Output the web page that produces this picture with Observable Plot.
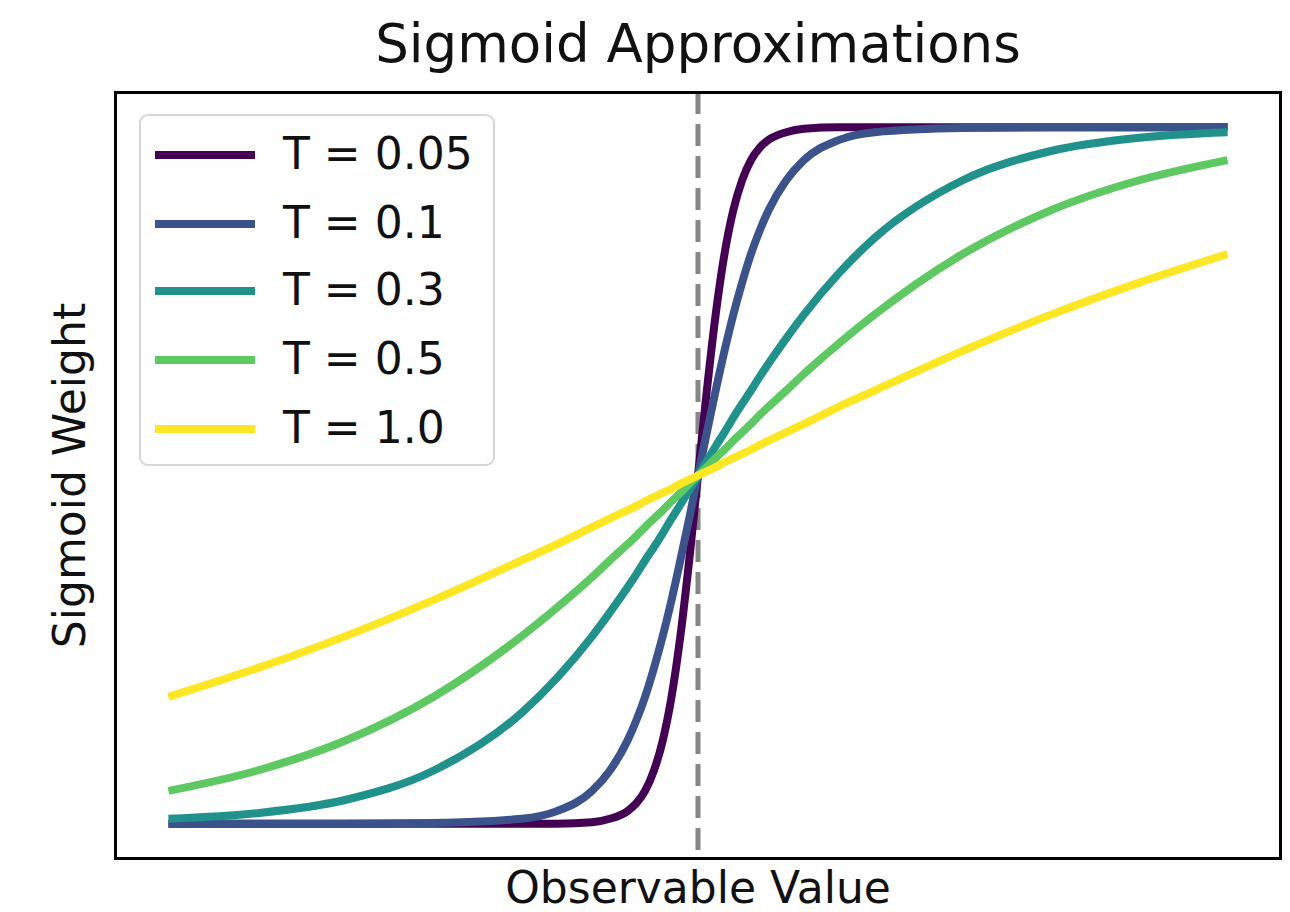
<!DOCTYPE html>
<html>
<head>
<meta charset="utf-8">
<script src="https://cdn.jsdelivr.net/npm/d3@7"></script>
<script src="https://cdn.jsdelivr.net/npm/@observablehq/plot@0.6"></script>
<style>
  body { margin: 0; background: #fff; }
  #wrap { position: relative; width: 1290px; height: 912px; font-family: "DejaVu Sans", sans-serif; }
  #legend { position: absolute; left: 139px; top: 114px; width: 356px; height: 352px;
    border: 2px solid #d6d6d6; border-radius: 9px; background: rgba(255,255,255,0.8); box-sizing: border-box; }
  .row { position: absolute; left: 0; height: 50px; }
  .row svg { position: absolute; left: 12px; top: 20px; }
  .row span { position: absolute; left: 142px; top: -1px; font-size: 44px; line-height: 50px; color: #111; white-space: nowrap; }
</style>
</head>
<body>
<div id="wrap"></div>
<script>
const xs = [-1.5,-1.25,-1.0,-0.75,-0.5,-0.4,-0.3,-0.25,-0.2,-0.175,-0.15,-0.125,-0.1,-0.075,-0.05,-0.025,0,
            0.025,0.05,0.075,0.1,0.125,0.15,0.175,0.2,0.25,0.3,0.4,0.5,0.75,1.0,1.25,1.5];

const seriesLabels = ["T = 0.05", "T = 0.1", "T = 0.3", "T = 0.5", "T = 1.0"];
const seriesColors = ["#440154", "#3b528b", "#21918c", "#5ec962", "#fde725"];

const t005 = [0.000,0.000,0.000,0.000,0.000,0.000,0.002,0.007,0.018,0.029,0.047,0.076,0.119,0.182,0.269,0.378,0.500,
              0.622,0.731,0.818,0.881,0.924,0.953,0.971,0.982,0.993,0.998,1.000,1.000,1.000,1.000,1.000,1.000];
const t01  = [0.000,0.000,0.000,0.001,0.007,0.018,0.047,0.076,0.119,0.148,0.182,0.223,0.269,0.321,0.378,0.438,0.500,
              0.562,0.622,0.679,0.731,0.777,0.818,0.852,0.881,0.924,0.953,0.982,0.993,0.999,1.000,1.000,1.000];
const t03  = [0.007,0.015,0.034,0.076,0.159,0.209,0.269,0.303,0.339,0.358,0.378,0.397,0.417,0.438,0.458,0.479,0.500,
              0.521,0.542,0.562,0.583,0.603,0.622,0.642,0.661,0.697,0.731,0.791,0.841,0.924,0.966,0.985,0.993];
const t05  = [0.047,0.076,0.119,0.182,0.269,0.310,0.354,0.378,0.401,0.413,0.426,0.438,0.450,0.463,0.475,0.488,0.500,
              0.512,0.525,0.537,0.550,0.562,0.574,0.587,0.599,0.622,0.646,0.690,0.731,0.818,0.881,0.924,0.953];
const t10  = [0.182,0.223,0.269,0.321,0.378,0.401,0.426,0.438,0.450,0.456,0.463,0.469,0.475,0.481,0.488,0.494,0.500,
              0.506,0.512,0.519,0.525,0.531,0.537,0.544,0.550,0.562,0.574,0.599,0.622,0.679,0.731,0.777,0.818];

const seriesValues = [t005, t01, t03, t05, t10];

const data = seriesValues.flatMap((vals, i) => vals.map((v, j) => ({x: xs[j], y: v, s: seriesLabels[i]})));

const plot = Plot.plot({
  width: 1290,
  height: 912,
  marginLeft: 115,
  marginRight: 10,
  marginTop: 92,
  marginBottom: 54,
  style: {fontFamily: "DejaVu Sans, sans-serif", background: "white"},
  x: {domain: [-1.65, 1.65], axis: null},
  y: {domain: [-0.05, 1.05], axis: null},
  color: {domain: seriesLabels, range: seriesColors},
  marks: [
    Plot.ruleX([0], {stroke: "#808080", strokeWidth: 5, strokeDasharray: "22,10", strokeOpacity: 0.95}),
    Plot.line(data, {x: "x", y: "y", z: "s", stroke: "s", strokeWidth: 8, curve: "monotone-x", strokeLinecap: "butt"}),
    Plot.frame({stroke: "black", strokeWidth: 3}),
    Plot.text(["Sigmoid Approximations"], {frameAnchor: "top", dy: -47, fontSize: 53, fill: "#111", lineAnchor: "middle"}),
    Plot.text(["Observable Value"], {frameAnchor: "bottom", dy: 30, fontSize: 44, fill: "#111", lineAnchor: "middle"}),
    Plot.text(["Sigmoid Weight"], {frameAnchor: "left", dx: -45, rotate: -90, fontSize: 44, fill: "#111", lineAnchor: "middle", textAnchor: "middle"})
  ]
});

const wrap = document.getElementById("wrap");
wrap.appendChild(plot);

const legend = document.createElement("div");
legend.id = "legend";
const rowTops = [39, 108, 175, 244, 313];
seriesLabels.forEach((lab, i) => {
  const row = document.createElement("div");
  row.className = "row";
  row.style.top = (rowTops[i] - 25) + "px";
  row.innerHTML = `<svg width="104" height="10"><line x1="2" x2="102" y1="5" y2="5" stroke="${seriesColors[i]}" stroke-width="8"/></svg><span>${lab}</span>`;
  legend.appendChild(row);
});
wrap.appendChild(legend);
</script>
</body>
</html>
